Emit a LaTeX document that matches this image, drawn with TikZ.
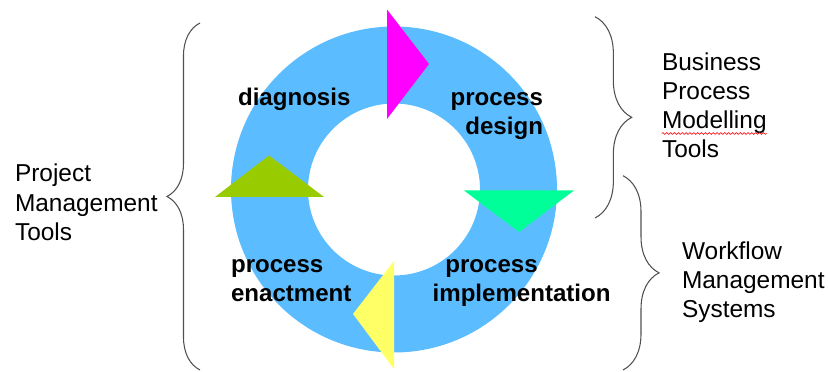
\documentclass[tikz,border=0pt]{standalone}
\usepackage{color}
\usepackage{fontspec}
\setmainfont{Liberation Sans}
\usepackage{tikz}
\usetikzlibrary{decorations.pathreplacing,decorations.pathmorphing}
\definecolor{ringblue}{RGB}{91,189,255}
\definecolor{magentatip}{RGB}{255,0,255}
\definecolor{olivetip}{RGB}{153,204,0}
\definecolor{mintip}{RGB}{0,255,153}
\definecolor{yellowtip}{RGB}{255,255,102}
\definecolor{bracegrey}{RGB}{80,80,80}
\tikzset{
  font={\fontsize{13.9pt}{16.5}\selectfont}}
\tikzset{
  stage/.style={font={\fontsize{13.7pt}{16.5}\selectfont\bfseries}},
  toolbrace/.style={bracegrey, line width=0.6pt, decorate,
    decoration={brace, amplitude=#1}}}

\begin{document}
\begin{tikzpicture}[scale=0.2]
\tikzstyle{every node}+=[inner sep=0pt]
\useasboundingbox (0,0) rectangle (82.8,-37.2);
\fill [ringblue, even odd rule] (39.4,-18.95) circle (16.3) (39.4,-18.95) circle (8.6);
\fill [magentatip] (38.7,-0.95) -- (42.9,-6.4) -- (38.7,-11.9);
\fill [olivetip] (21.5,-19.7) -- (26.9,-15.55) -- (32.4,-19.7);
\fill [mintip] (46.4,-19.05) -- (57.4,-19.05) -- (51.9,-23.2);
\fill [yellowtip] (39.4,-26.1) -- (39.4,-36.9) -- (35.3,-31.4);
\draw (23.77,-10.6) node [stage, anchor=base west] (diag) {diagnosis};
\draw (54.33,-10.6) node [stage, anchor=base east] (desA) {process};
\draw (54.33,-13.5) node [stage, anchor=base east] (desB) {design};
\draw (23.07,-27.3) node [stage, anchor=base west] (enaA) {process};
\draw (23.07,-30.2) node [stage, anchor=base west] (enaB) {enactment};
\draw (44.5,-27.3) node [stage, anchor=base west] (impA) {process};
\draw (43.23,-30.2) node [stage, anchor=base west] (impB) {implementation};
\coordinate (pmtTop) at (20.0,-2.3);
\coordinate (pmtBot) at (20.0,-37.0);
\draw [toolbrace=18.8pt] (pmtBot) -- (pmtTop);
\draw (1.47,-18.2) node [anchor=base west] (pmtA) {Project};
\draw (1.47,-21.15) node [anchor=base west] (pmtB) {Management};
\draw (1.47,-24.1) node [anchor=base west] (pmtC) {Tools};
\coordinate (bpmTop) at (59.5,-1.67);
\coordinate (bpmBot) at (59.5,-21.8);
\draw [toolbrace=20.9pt] (bpmTop) -- (bpmBot);
\draw (66.17,-7.05) node [anchor=base west] (bpmA) {Business};
\draw (66.17,-9.95) node [anchor=base west] (bpmB) {Process};
\draw (66.17,-12.85) node [anchor=base west] (bpmC) {Modelling};
\draw (66.17,-15.75) node [anchor=base west] (bpmD) {Tools};
\draw [red, line width=0.35pt, decorate, decoration={snake, amplitude=0.5pt, segment length=2.2pt}]
  (bpmC.base west) ++(0,-0.5) -- ++(10.5,0);
\coordinate (wmsTop) at (62.3,-17.57);
\coordinate (wmsBot) at (62.3,-37.0);
\draw [toolbrace=20.5pt] (wmsTop) -- (wmsBot);
\draw (68.17,-26.0) node [anchor=base west] (wmsA) {Workflow};
\draw (68.17,-28.9) node [anchor=base west] (wmsB) {Management};
\draw (68.17,-31.75) node [anchor=base west] (wmsC) {Systems};
\end{tikzpicture}
\end{document}
